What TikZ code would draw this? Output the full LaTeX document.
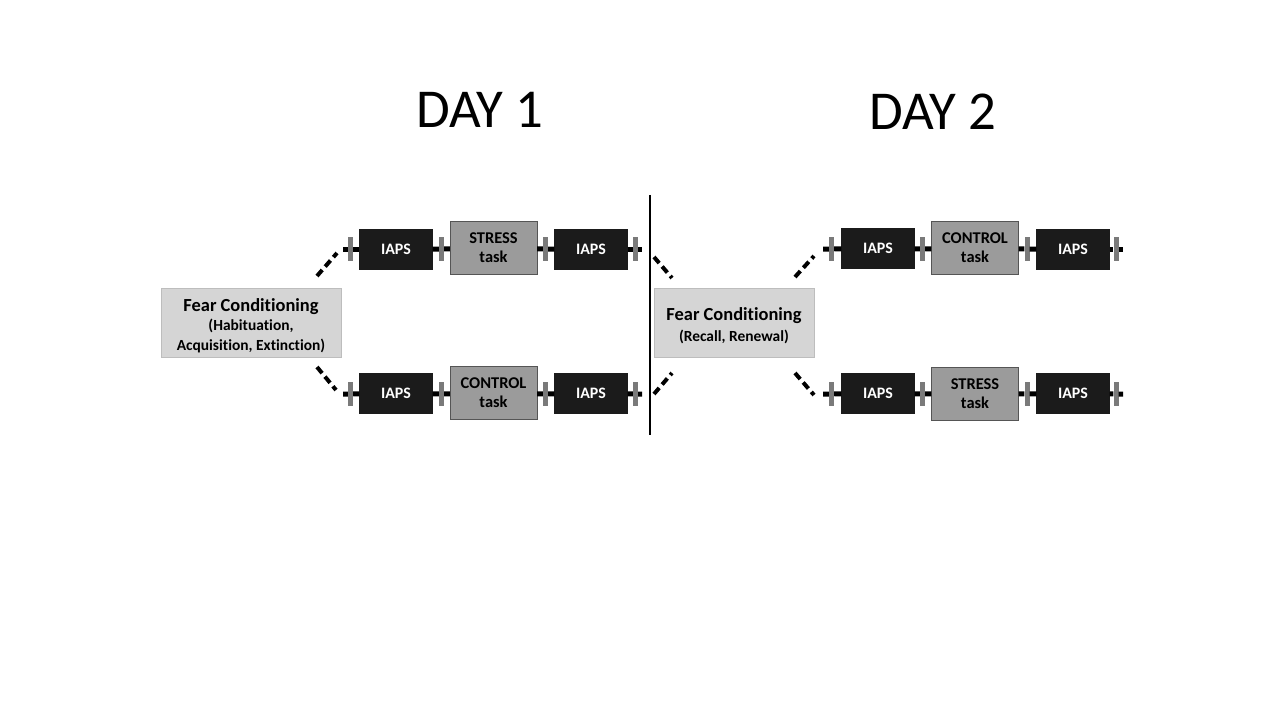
\documentclass[tikz,border=0pt]{standalone}
\usepackage{fontspec}
\setmainfont{Carlito}[Ligatures=NoCommon]
\usetikzlibrary{positioning, calc}
\definecolor{IapsColor}{HTML}{1B1B1B}
\definecolor{TaskColor}{HTML}{9B9B9B}
\definecolor{TaskBorder}{HTML}{555555}
\definecolor{FearColor}{HTML}{D5D5D5}
\definecolor{FearBorder}{HTML}{BDBDBD}
\definecolor{TickColor}{HTML}{7A7A7A}

\begin{document}
\begin{tikzpicture}[
    x=1bp, y=-1bp,
    iapsbox/.style={rectangle, fill=IapsColor, draw=IapsColor, minimum width=73bp, minimum height=40bp, inner sep=0pt, text=white, font=\fontsize{16}{18}\selectfont\bfseries},
    taskbox/.style={rectangle, fill=TaskColor, draw=TaskBorder, minimum width=87bp, minimum height=53bp, inner sep=0pt, align=center, font=\fontsize{16.5}{19}\selectfont\bfseries},
    fearbox/.style={rectangle, fill=FearColor, draw=FearBorder, inner sep=0pt, align=center, font=\fontsize{18.5}{21}\selectfont\bfseries},
    subline/.style={font=\fontsize{16}{20}\selectfont\bfseries},
    tickmark/.style={rectangle, fill=TickColor, minimum width=5bp, minimum height=24bp, inner sep=0pt},
    rowline/.style={line width=5bp},
    dashline/.style={line width=4bp, dash pattern=on 8bp off 4.5bp},
    divider/.style={line width=2.5bp},
    daylabel/.style={font=\fontsize{55}{60}\selectfont}
]
\useasboundingbox[fill=white] (0,0) rectangle (1280,720);

%%%%%%%%%%%%%%%%%%%%%%%%%%%%%%%%%%%%%%%%%%%%%%%%%%%%%%%%%%%%%%%%%%%
% Titles
%%%%%%%%%%%%%%%%%%%%%%%%%%%%%%%%%%%%%%%%%%%%%%%%%%%%%%%%%%%%%%%%%%%
\node[daylabel] (day1) at (480, 110) {DAY 1};
\node[daylabel] (day2) at (933, 112) {DAY 2};

% Day separator
\coordinate (div_top) at (650, 195);
\coordinate (div_bot) at (650, 435);
\draw[divider] (div_top) -- (div_bot);

%%%%%%%%%%%%%%%%%%%%%%%%%%%%%%%%%%%%%%%%%%%%%%%%%%%%%%%%%%%%%%%%%%%
% Day 1 - Fear Conditioning
%%%%%%%%%%%%%%%%%%%%%%%%%%%%%%%%%%%%%%%%%%%%%%%%%%%%%%%%%%%%%%%%%%%
\node[fearbox, minimum width=180bp, minimum height=69bp] (fear1) at (251, 322.5)
    {\rule{0pt}{19bp}Fear Conditioning\\[-1.5bp]{\fontsize{15.5}{20}\selectfont (Habituation,}\\[-1.5bp]{\fontsize{15.5}{20}\selectfont Acquisition, Extinction)}};

%%%%%%%%%%%%%%%%%%%%%%%%%%%%%%%%%%%%%%%%%%%%%%%%%%%%%%%%%%%%%%%%%%%
% Day 1 - Top row (stress)
%%%%%%%%%%%%%%%%%%%%%%%%%%%%%%%%%%%%%%%%%%%%%%%%%%%%%%%%%%%%%%%%%%%
\coordinate (d1top_start) at (343, 249);
\coordinate (d1top_end) at (642, 249);
\node[tickmark] (d1top_t1) at (350.5, 249) {};
\node[iapsbox] (d1top_pre) at (396, 249) {IAPS};
\node[tickmark] (d1top_t2) at (441.5, 249) {};
\node[taskbox] (d1top_task) at (493.5, 248) {STRESS\\task};
\node[tickmark] (d1top_t3) at (545.5, 249) {};
\node[iapsbox] (d1top_post) at (591, 249) {IAPS};
\node[tickmark] (d1top_t4) at (635.5, 249) {};

%%%%%%%%%%%%%%%%%%%%%%%%%%%%%%%%%%%%%%%%%%%%%%%%%%%%%%%%%%%%%%%%%%%
% Day 1 - Bottom row (control)
%%%%%%%%%%%%%%%%%%%%%%%%%%%%%%%%%%%%%%%%%%%%%%%%%%%%%%%%%%%%%%%%%%%
\coordinate (d1bot_start) at (343, 394);
\coordinate (d1bot_end) at (642, 394);
\node[tickmark] (d1bot_t1) at (350.5, 394) {};
\node[iapsbox] (d1bot_pre) at (396, 393) {IAPS};
\node[tickmark] (d1bot_t2) at (441.5, 394) {};
\node[taskbox] (d1bot_task) at (493.5, 393) {CONTROL\\task};
\node[tickmark] (d1bot_t3) at (545.5, 394) {};
\node[iapsbox] (d1bot_post) at (591, 393) {IAPS};
\node[tickmark] (d1bot_t4) at (635.5, 394) {};

%%%%%%%%%%%%%%%%%%%%%%%%%%%%%%%%%%%%%%%%%%%%%%%%%%%%%%%%%%%%%%%%%%%
% Day 2 - Fear Conditioning
%%%%%%%%%%%%%%%%%%%%%%%%%%%%%%%%%%%%%%%%%%%%%%%%%%%%%%%%%%%%%%%%%%%
\node[fearbox, minimum width=160bp, minimum height=69bp] (fear2) at (734, 322.5)
    {\rule{0pt}{19bp}Fear Conditioning\\[0bp]{\fontsize{15.5}{20}\selectfont (Recall, Renewal)}};

%%%%%%%%%%%%%%%%%%%%%%%%%%%%%%%%%%%%%%%%%%%%%%%%%%%%%%%%%%%%%%%%%%%
% Day 2 - Top row (control)
%%%%%%%%%%%%%%%%%%%%%%%%%%%%%%%%%%%%%%%%%%%%%%%%%%%%%%%%%%%%%%%%%%%
\coordinate (d2top_start) at (823, 249);
\coordinate (d2top_end) at (1123, 249);
\node[tickmark] (d2top_t1) at (831.5, 249) {};
\node[iapsbox] (d2top_pre) at (878, 248) {IAPS};
\node[tickmark] (d2top_t2) at (922.5, 249) {};
\node[taskbox] (d2top_task) at (975, 248) {CONTROL\\task};
\node[tickmark] (d2top_t3) at (1027, 249) {};
\node[iapsbox] (d2top_post) at (1073, 249) {IAPS};
\node[tickmark] (d2top_t4) at (1116, 249) {};

%%%%%%%%%%%%%%%%%%%%%%%%%%%%%%%%%%%%%%%%%%%%%%%%%%%%%%%%%%%%%%%%%%%
% Day 2 - Bottom row (stress)
%%%%%%%%%%%%%%%%%%%%%%%%%%%%%%%%%%%%%%%%%%%%%%%%%%%%%%%%%%%%%%%%%%%
\coordinate (d2bot_start) at (823, 394);
\coordinate (d2bot_end) at (1123, 394);
\node[tickmark] (d2bot_t1) at (831.5, 394) {};
\node[iapsbox] (d2bot_pre) at (878, 393) {IAPS};
\node[tickmark] (d2bot_t2) at (922.5, 394) {};
\node[taskbox] (d2bot_task) at (975, 393.5) {STRESS\\task};
\node[tickmark] (d2bot_t3) at (1027, 394) {};
\node[iapsbox] (d2bot_post) at (1073, 393) {IAPS};
\node[tickmark] (d2bot_t4) at (1116, 394) {};

%%%%%%%%%%%%%%%%%%%%%%%%%%%%%%%%%%%%%%%%%%%%%%%%%%%%%%%%%%%%%%%%%%%
% Row lines
%%%%%%%%%%%%%%%%%%%%%%%%%%%%%%%%%%%%%%%%%%%%%%%%%%%%%%%%%%%%%%%%%%%
\draw[rowline] (d1top_start) -- (d1top_t1) -- (d1top_pre);
\draw[rowline] (d1top_pre) -- (d1top_t2) -- (d1top_task);
\draw[rowline] (d1top_task) -- (d1top_t3) -- (d1top_post);
\draw[rowline] (d1top_post) -- (d1top_t4) -- (d1top_end);

\draw[rowline] (d1bot_start) -- (d1bot_t1) -- (d1bot_pre);
\draw[rowline] (d1bot_pre) -- (d1bot_t2) -- (d1bot_task);
\draw[rowline] (d1bot_task) -- (d1bot_t3) -- (d1bot_post);
\draw[rowline] (d1bot_post) -- (d1bot_t4) -- (d1bot_end);

\draw[rowline] (d2top_start) -- (d2top_t1) -- (d2top_pre);
\draw[rowline] (d2top_pre) -- (d2top_t2) -- (d2top_task);
\draw[rowline] (d2top_task) -- (d2top_t3) -- (d2top_post);
\draw[rowline] (d2top_post) -- (d2top_t4) -- (d2top_end);

\draw[rowline] (d2bot_start) -- (d2bot_t1) -- (d2bot_pre);
\draw[rowline] (d2bot_pre) -- (d2bot_t2) -- (d2bot_task);
\draw[rowline] (d2bot_task) -- (d2bot_t3) -- (d2bot_post);
\draw[rowline] (d2bot_post) -- (d2bot_t4) -- (d2bot_end);

%%%%%%%%%%%%%%%%%%%%%%%%%%%%%%%%%%%%%%%%%%%%%%%%%%%%%%%%%%%%%%%%%%%
% Dashed branches
%%%%%%%%%%%%%%%%%%%%%%%%%%%%%%%%%%%%%%%%%%%%%%%%%%%%%%%%%%%%%%%%%%%
\coordinate (fear1_up) at (317, 276);
\coordinate (fear1_dn) at (317, 367);
\coordinate (d1top_in) at (337, 253);
\coordinate (d1bot_in) at (336, 390);
\draw[dashline] (fear1_up) -- (d1top_in);
\draw[dashline] (fear1_dn) -- (d1bot_in);

\coordinate (d1top_out) at (654, 257);
\coordinate (d1bot_out) at (654, 394);
\coordinate (fear2_lup) at (672, 278);
\coordinate (fear2_ldn) at (672, 373);
\draw[dashline] (d1top_out) -- (fear2_lup);
\draw[dashline] (d1bot_out) -- (fear2_ldn);

\coordinate (fear2_rup) at (795, 277);
\coordinate (fear2_rdn) at (795, 373);
\coordinate (d2top_in) at (814, 256);
\coordinate (d2bot_in) at (814, 395);
\draw[dashline] (fear2_rup) -- (d2top_in);
\draw[dashline] (fear2_rdn) -- (d2bot_in);

\end{tikzpicture}
\end{document}
